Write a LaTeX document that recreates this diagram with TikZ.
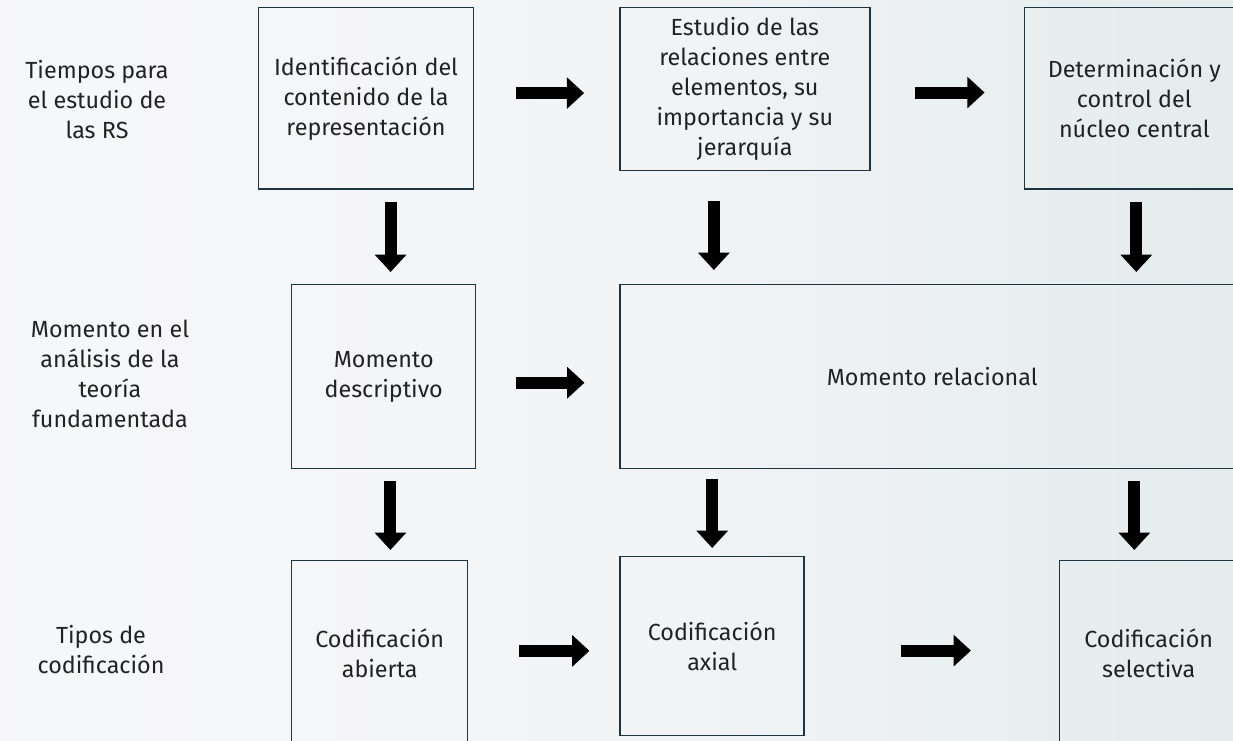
\documentclass[tikz,border=0pt]{standalone}
\usepackage{fontspec}
\setmainfont{Fira Sans}
\usepackage{xcolor}
\usetikzlibrary{arrows.meta, positioning, calc}

\definecolor{fondo}{RGB}{243,244,246}
\definecolor{fondoder}{RGB}{228,236,236}
\definecolor{borde}{RGB}{30,52,66}
\definecolor{texto}{RGB}{34,34,34}

\begin{document}
\begin{tikzpicture}[
    x=0.75pt, y=-0.75pt,
    % Estilo para las cajas
    caja/.style = {
        rectangle,
        draw=borde,
        line width=1.1pt,
        align=center,
        inner sep=2pt,
        text=texto,
        font=\fontsize{17.5}{22.5}\selectfont
    },
    % Estilo para las etiquetas de fila
    etiqueta/.style = {
        align=center,
        text=texto,
        font=\fontsize{17.5}{22.5}\selectfont
    },
    % Estilo de las flechas gruesas
    flecha/.style = {
        draw=black,
        line width=9pt,
        -{Triangle[length=13pt, width=23pt]}
    }
]

    % --- FONDO ---
    \fill[left color=fondo!70!white, right color=fondoder, middle color=fondo] (0,0) rectangle (1233,740);
    \useasboundingbox (0,0) rectangle (1233,740);
    \clip (0,0) rectangle (1233,740);

    % --- ETIQUETAS DE FILA ---
    \node [etiqueta] (tiempos) at (97,100) {Tiempos para\\el estudio de\\las RS};
    \node [etiqueta] (momento) at (110,374) {Momento en el\\análisis de la\\teoría\\fundamentada};
    \node [etiqueta] (tipos) at (101,650) {Tipos de\\codificación};

    % --- FILA 1 ---
    \node [caja, anchor=north west, minimum width=161pt, minimum height=136pt] (ident) at (258,7)
        {Identificación del\\contenido de la\\representación};
    \node [caja, right=108.75pt of ident.north east, anchor=north west, minimum width=187.5pt, minimum height=122pt] (estudio)
        {Estudio de las\\relaciones entre\\elementos, su\\importancia y su\\jerarquía};
    \node [caja, right=114.75pt of estudio.north east, anchor=north west, minimum width=165pt, minimum height=136pt] (determ)
        {Determinación y\\control del\\núcleo central};

    % --- FILA 2 ---
    \node [caja, anchor=north west, minimum width=138pt, minimum height=138pt] (desc) at (291,284)
        {Momento\\descriptivo};
    \node [caja, right=107.25pt of desc.north east, anchor=north west, minimum width=468pt, minimum height=138pt] (relacional)
        {Momento relacional};

    % --- FILA 3 ---
    \node [caja, anchor=north west, minimum width=132pt, minimum height=139pt] (abierta) at (291,560)
        {Codificación\\abierta};
    \node [caja, right=113.25pt of abierta.north east, anchor=north west, yshift=3pt, minimum width=138pt, minimum height=134pt] (axial)
        {Codificación\\axial};
    \node [caja, right=190.5pt of axial.north east, anchor=north west, yshift=-3pt, minimum width=133.5pt, minimum height=139pt] (selectiva)
        {Codificación\\selectiva};

    % --- FLECHAS HORIZONTALES ---
    \draw [flecha, shorten <=31.5pt, shorten >=26.25pt] ([yshift=4pt]ident.east) -- ([yshift=4pt]ident.east -| estudio.west);
    \draw [flecha, shorten <=33pt, shorten >=29.25pt] ([yshift=-2.6pt]estudio.east) -- ([yshift=-2.6pt]estudio.east -| determ.west);
    \draw [flecha, shorten <=30pt, shorten >=26.25pt] ([yshift=-4.5pt]desc.east) -- ([yshift=-4.5pt]desc.east -| relacional.west);
    \draw [flecha, shorten <=38.25pt, shorten >=22.5pt] ([yshift=1.9pt]abierta.east) -- ([yshift=1.9pt]abierta.east -| axial.west);
    \draw [flecha, shorten <=72pt, shorten >=66pt] ([yshift=-3.4pt]axial.east) -- ([yshift=-3.4pt]axial.east -| selectiva.west);

    % --- FLECHAS VERTICALES ---
    \draw [flecha, shorten <=9pt, shorten >=9pt] ([xshift=18.4pt]ident.south) -- ([xshift=18.4pt]ident.south |- desc.north);
    \draw [flecha, shorten <=22.5pt, shorten >=10.5pt] ([xshift=-23.25pt]estudio.south) -- ([xshift=-23.25pt]estudio.south |- relacional.north);
    \draw [flecha, shorten <=9pt, shorten >=9pt] ([xshift=1.5pt]determ.south) -- ([xshift=1.5pt]determ.south |- relacional.north);
    \draw [flecha, shorten <=9pt, shorten >=7.5pt] ([xshift=5pt]desc.south) -- ([xshift=5pt]desc.south |- abierta.north);
    \draw [flecha, shorten <=7.5pt, shorten >=6pt] (relacional.south -| axial.north) -- (axial.north);
    \draw [flecha, shorten <=9pt, shorten >=7.5pt] (relacional.south -| determ.south) -- (selectiva.north -| determ.south);

\end{tikzpicture}
\end{document}
